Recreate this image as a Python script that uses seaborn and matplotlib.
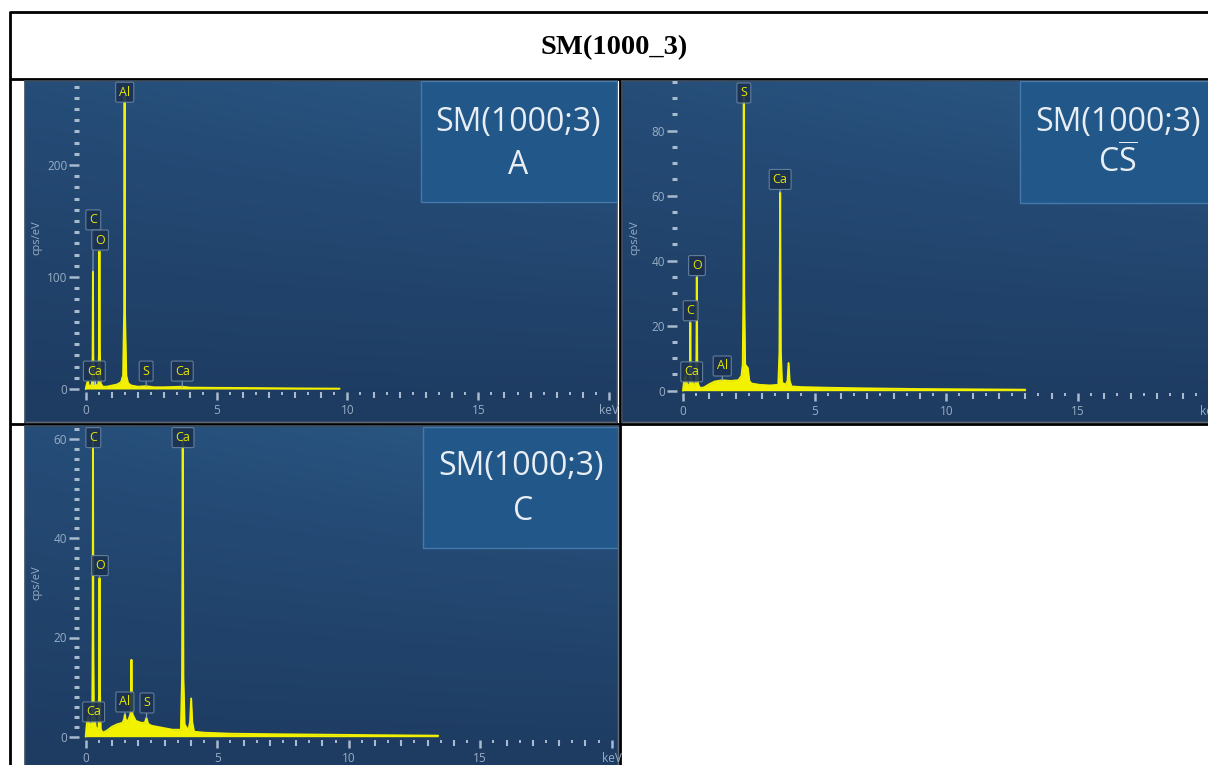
import numpy as np
import matplotlib
matplotlib.use("Agg")
import matplotlib.pyplot as plt
import seaborn as sns
from matplotlib.ticker import FixedLocator, MultipleLocator, FixedFormatter
from matplotlib.colors import LinearSegmentedColormap
from matplotlib.patches import Rectangle

sns.set_theme(style="white")
plt.rcParams['font.family'] = ['Open Sans', 'DejaVu Sans']
plt.rcParams['mathtext.fontset'] = 'custom'
plt.rcParams['mathtext.rm'] = 'Open Sans'

# ---------------- data ----------------
TITLE = "SM(1000_3)"
panel_names = ["A", r"C$\overline{\mathrm{S}}$", "C"]
sample_name = "SM(1000;3)"
x_ticks = [0, 5, 10, 15, 20]
x_tick_labels = ["0", "5", "10", "15", "keV"]

energy_A = [0.00, 0.04, 0.08, 0.12, 0.18, 0.24, 0.265, 0.277, 0.29, 0.31,
            0.34, 0.37, 0.42, 0.48, 0.51, 0.525, 0.54, 0.57, 0.65, 0.80,
            1.00, 1.20, 1.35, 1.43, 1.47, 1.487, 1.50, 1.55, 1.62, 1.75,
            2.00, 2.31, 2.60, 3.00, 3.69, 4.00, 5.00, 6.50, 8.00, 9.70]
cps_A = [0, 4, 7, 3, 2, 5, 30, 105, 30, 6,
         9, 4, 3, 4, 35, 123, 35, 5, 2, 2,
         3, 4, 6, 12, 70, 262, 70, 12, 5, 3,
         2, 2.5, 1.5, 1.5, 2, 1.2, 1.0, 0.8, 0.5, 0.3]
labels_A = ["Al", "C", "O", "Ca", "S", "Ca"]
label_x_A = [1.49, 0.29, 0.55, 0.33, 2.31, 3.69]
label_y_A = [265, 151, 133, 16, 16, 16]
peak_x_A = [1.487, 0.277, 0.525, 0.34, 2.31, 3.69]
peak_y_A = [262, 105, 123, 4, 2.5, 2]
yticks_A = [0, 100, 200]
yminor_A = 10

energy_B = [0.00, 0.05, 0.10, 0.15, 0.20, 0.25, 0.265, 0.277, 0.29, 0.31,
            0.34, 0.38, 0.44, 0.49, 0.51, 0.525, 0.54, 0.57, 0.65, 0.80,
            1.00, 1.20, 1.49, 1.80, 2.10, 2.22, 2.27, 2.295, 2.31, 2.325,
            2.36, 2.46, 2.52, 2.60, 2.90, 3.30, 3.62, 3.665, 3.69, 3.715,
            3.76, 3.90, 3.97, 4.01, 4.05, 4.12, 4.50, 5.50, 7.00, 9.00,
            11.0, 13.0]
cps_B = [0, 3.5, 5, 2, 1.5, 2, 7, 21, 7, 2,
         3.5, 2, 1.5, 3, 10, 35, 10, 2, 0.8, 1.0,
         2.0, 2.8, 3.2, 3.0, 3.2, 4.5, 8, 30, 91, 30,
         8, 7, 3, 2.2, 1.8, 1.6, 1.8, 12, 61, 12,
         2.5, 1.8, 3, 8.5, 3, 1.3, 1.1, 0.9, 0.7, 0.5,
         0.4, 0.3]
labels_B = ["S", "Ca", "O", "C", "Ca", "Al"]
label_x_B = [2.31, 3.69, 0.53, 0.29, 0.33, 1.49]
label_y_B = [91.6, 65, 38.5, 24.6, 5.8, 7.6]
peak_x_B = [2.31, 3.69, 0.525, 0.277, 0.34, 1.49]
peak_y_B = [91, 61, 35, 21, 3.5, 3.2]
yticks_B = [0, 20, 40, 60, 80]
yminor_B = 5

energy_C = [0.00, 0.05, 0.10, 0.15, 0.20, 0.25, 0.265, 0.277, 0.29, 0.31,
            0.34, 0.38, 0.44, 0.49, 0.51, 0.525, 0.54, 0.57, 0.65, 0.80,
            1.00, 1.20, 1.40, 1.46, 1.49, 1.52, 1.60, 1.70, 1.725, 1.74,
            1.755, 1.78, 1.90, 2.10, 2.25, 2.31, 2.37, 2.50, 2.90, 3.30,
            3.62, 3.665, 3.69, 3.715, 3.76, 3.90, 3.97, 4.01, 4.05, 4.12,
            4.50, 5.50, 7.00, 9.00, 11.0, 13.4]
cps_C = [0, 3, 4, 2, 2, 4, 20, 60.5, 20, 3,
         4, 2, 1.2, 2, 10, 32, 10, 1.5, 0.8, 1.2,
         2.0, 2.5, 2.8, 3.5, 4.5, 3.5, 3, 4.5, 8, 15.5,
         8, 4.5, 3.2, 2.8, 2.8, 3.8, 2.6, 2.2, 1.8, 1.4,
         1.4, 12, 60, 12, 2.5, 1.2, 3, 7.7, 3, 1.0,
         0.8, 0.6, 0.5, 0.4, 0.3, 0.2]
labels_C = ["C", "Ca", "O", "Ca", "Al", "S"]
label_x_C = [0.29, 3.70, 0.54, 0.30, 1.49, 2.33]
label_y_C = [60.3, 60.3, 34.5, 5.0, 7.0, 6.8]
peak_x_C = [0.277, 3.69, 0.525, 0.34, 1.49, 2.31]
peak_y_C = [60.5, 60, 32, 4, 4.5, 3.8]
yticks_C = [0, 20, 40, 60]
yminor_C = 2

# ---------------- layout ----------------
W, H = 1208, 765
fig = plt.figure(figsize=(W / 100, H / 100), dpi=100)
fig.patch.set_facecolor("white")

def rect(x0, y0, x1, y1):
    return [x0 / W, 1 - y1 / H, (x1 - x0) / W, (y1 - y0) / H]

# table frame
axt = fig.add_axes([0, 0, 1, 1])
axt.set_xlim(0, W)
axt.set_ylim(H, 0)
axt.axis("off")
lk = dict(color="black", lw=2, solid_capstyle="butt")
axt.plot([10, W], [12, 12], **lk)
axt.plot([10, W], [79, 79], **lk)
axt.plot([10, W], [424, 424], **lk)
axt.plot([10, 10], [11, H], **lk)
axt.plot([619.5, 619.5], [79, H], **lk)
axt.text(614, 48, TITLE, ha="center", va="center", fontsize=20.5,
         fontweight="bold", family="Liberation Serif", color="black")

bg_cmap = LinearSegmentedColormap.from_list(
    "bg", ["#1e3b61", "#21436b", "#254c77", "#2b5986"])
yy, xx = np.mgrid[0:1:200j, 0:1:200j]
grad = 0.7 * yy + 0.3 * xx * yy

TICK_C = "#a8bacd"
LAB_C = "#98adc4"
YEL = "#f2f200"


def panel(bg_px, inner_px, x0px, kpx, y0px, upx, energy, cps,
          labs, lx, ly, px_, py_, yticks, yminor, box_px, name,
          line1_px, line2_px, ylabel_px):
    bx0, by0, bx1, by1 = bg_px
    bg = fig.add_axes(rect(*bg_px))
    bg.imshow(grad, extent=[0, 1, 0, 1], origin="lower", aspect="auto",
              cmap=bg_cmap, vmin=0, vmax=1)
    bg.set_xlim(0, 1)
    bg.set_ylim(0, 1)
    bg.set_xticks([])
    bg.set_yticks([])
    for s in bg.spines.values():
        s.set_color("#3d4d60")
        s.set_linewidth(1.2)

    def fx(p):
        return (p - bx0) / (bx1 - bx0)

    def fy(p):
        return 1 - (p - by0) / (by1 - by0)

    # title box
    tx0, ty0, tx1, ty1 = box_px
    bg.add_patch(Rectangle((fx(tx0), fy(ty1)), fx(tx1) - fx(tx0),
                           fy(ty0) - fy(ty1), fc="#225789", ec="#4479aa",
                           lw=1.0, zorder=3))
    bg.text(fx(line1_px[0]), fy(line1_px[1]), sample_name, ha="center",
            va="center", fontsize=23, color="#e9eef4", zorder=4)
    bg.text(fx(line2_px[0]), fy(line2_px[1]), name, ha="center",
            va="center", fontsize=23, color="#e9eef4", zorder=4)

    ix0, iy0, ix1, iy1 = inner_px
    ax = fig.add_axes(rect(*inner_px))
    ax.patch.set_alpha(0)
    ax.set_xlim((ix0 - x0px) / kpx, (ix1 - x0px) / kpx)
    ax.set_ylim((y0px - iy1) / upx, (y0px - iy0) / upx)
    for s in ax.spines.values():
        s.set_visible(False)
    ax.grid(False)

    ax.fill_between(energy, cps, 0, color=YEL, lw=0, zorder=2)
    sns.lineplot(x=energy, y=cps, ax=ax, color=YEL, lw=1.4,
                 estimator=None, legend=False, zorder=3)
    ax.set_xlabel("")
    ax.set_ylabel("")

    ax.xaxis.set_major_locator(FixedLocator(x_ticks))
    ax.xaxis.set_major_formatter(FixedFormatter(x_tick_labels))
    ax.xaxis.set_minor_locator(FixedLocator(np.arange(0.5, 20, 1.0)))
    ax.yaxis.set_major_locator(FixedLocator(yticks))
    ax.yaxis.set_minor_locator(MultipleLocator(yminor))
    ax.tick_params(axis="x", which="major", bottom=True, length=6,
                   width=1.8, color=TICK_C, labelcolor=LAB_C,
                   labelsize=8.5, pad=3, direction="out")
    ax.tick_params(axis="x", which="minor", bottom=True, length=2.2,
                   width=1.4, color=TICK_C, direction="out")
    ax.tick_params(axis="y", which="major", left=True, length=7.5,
                   width=1.8, color=TICK_C, labelcolor=LAB_C,
                   labelsize=8.5, pad=1, direction="out")
    ax.tick_params(axis="y", which="minor", left=True, length=3.5,
                   width=2.2, color=TICK_C, direction="out")

    sec = ax.secondary_xaxis("bottom")
    sec.set_xticks([v for v in range(1, 20) if v % 5 != 0])
    sec.tick_params(axis="x", which="major", length=4, width=1.5,
                    color=TICK_C, labelbottom=False, direction="out")
    sec.tick_params(axis="x", which="minor", bottom=False)
    for s in sec.spines.values():
        s.set_visible(False)

    ax.text((ylabel_px[0] - ix0) / (ix1 - ix0),
            1 - (ylabel_px[1] - iy0) / (iy1 - iy0), "cps/eV",
            transform=ax.transAxes, rotation=90, ha="center", va="center",
            fontsize=8, color=LAB_C, clip_on=False)

    for el, tx, ty, ex, ey in zip(labs, lx, ly, px_, py_):
        ax.annotate(el, xy=(ex, ey), xytext=(tx, ty), textcoords="data",
                    ha="center", va="center", fontsize=9, color="#e6e600",
                    bbox=dict(boxstyle="round,pad=0.28,rounding_size=0.12",
                              fc="#1b3150", ec="#6985a3", lw=0.8, alpha=0.9),
                    arrowprops=dict(arrowstyle="-", color="#8aa0b8", lw=0.8,
                                    shrinkA=0, shrinkB=0),
                    zorder=6, annotation_clip=False)
    return ax


panel((25, 81, 617, 422), (79, 81, 617, 392), 85.7, 26.17, 389, 1.12,
      energy_A, cps_A, labels_A, label_x_A, label_y_A, peak_x_A, peak_y_A,
      yticks_A, yminor_A, (421, 81, 617, 202), panel_names[0],
      (518, 123), (518, 166), (37, 238))

panel((622, 81, 1214, 422), (677, 81, 1214, 393), 683, 26.33, 390.7, 3.25,
      energy_B, cps_B, labels_B, label_x_B, label_y_B, peak_x_B, peak_y_B,
      yticks_B, yminor_B, (1020, 81, 1214, 203), panel_names[1],
      (1118, 123), (1118, 163), (635, 238))

panel((25, 426, 618, 772), (79, 426, 618, 740), 85.7, 26.3, 736.7, 4.96,
      energy_C, cps_C, labels_C, label_x_C, label_y_C, peak_x_C, peak_y_C,
      yticks_C, yminor_C, (423, 427, 618, 548), panel_names[2],
      (521, 467), (523, 512), (37, 583))

fig.savefig("out.png", dpi=100)
